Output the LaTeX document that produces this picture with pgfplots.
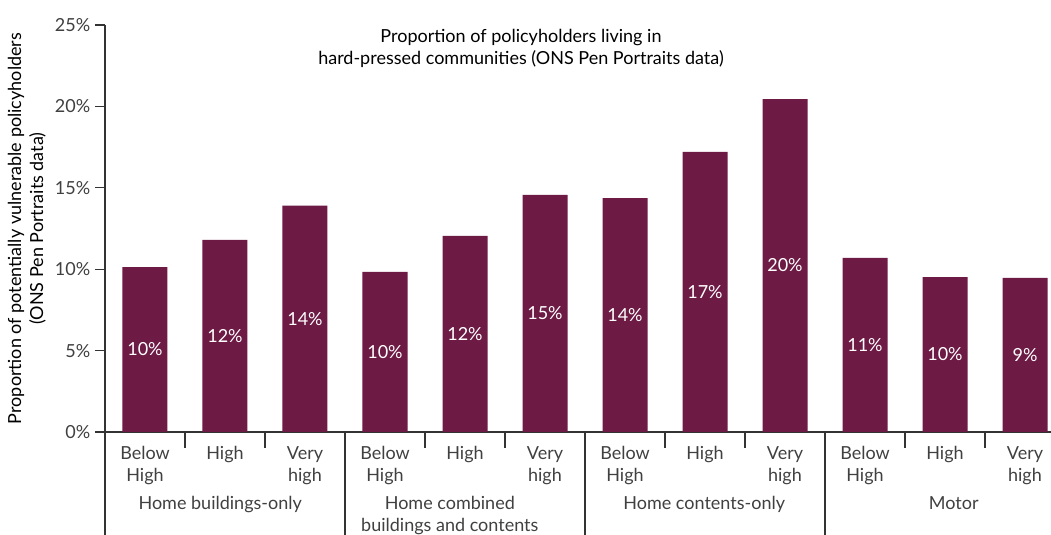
\documentclass[border=0pt]{standalone}
\usepackage{pgfplots}
\pgfplotsset{compat=1.18}
\usepackage{fontspec}
\setmainfont{Lato}
\definecolor{barc}{HTML}{6D1A45}
\definecolor{tickc}{HTML}{404040}
\definecolor{linec}{HTML}{333333}
\begin{document}
\begin{tikzpicture}[font=\fontsize{13.5}{16.5}\selectfont]
\begin{axis}[
  scale only axis, width=709.5pt, height=305.25pt,
  xmin=-0.5, xmax=11.325, ymin=0, ymax=25,
  axis x line*=bottom, axis y line*=left,
  axis line style={linec, line width=0.8pt},
  ybar, bar width=33.75pt,
  xtick={0,...,11},
  xticklabels={Below\\High, High, Very\\high, Below\\High, High, Very\\high, Below\\High, High, Very\\high, Below\\High, High, Very\\high},
  xticklabel style={align=center, text=tickc},
  major x tick style={draw=none},
  ytick={0,5,...,25},
  yticklabel={\pgfmathprintnumber{\tick}\%},
  yticklabel style={text=tickc},
  tick align=outside, major tick length=7.5pt,
  major y tick style={linec, line width=0.8pt},
  /pgf/number format/assume math mode=true,
  ylabel={Proportion of potentially vulnerable policyholders\\(ONS Pen Portraits data)},
  ylabel style={align=center, text=black},
  clip=false,
  visualization depends on={rawy \as \rawy},
  nodes near coords={\pgfmathprintnumber[fixed,precision=0]{\pgfplotspointmeta}\%},
  every node near coord/.append style={text=white, anchor=center, yshift={-6.105pt*\rawy}},
]
\addplot[fill=barc, draw=none] coordinates {
  (0,10.13) (1,11.80) (2,13.90)
  (3,9.83) (4,12.04) (5,14.56)
  (6,14.37) (7,17.20) (8,20.45)
  (9,10.69) (10,9.52) (11,9.46)
};
\pgfplotsinvokeforeach{-0.5,2.5,5.5,8.5}{
  \draw[linec, line width=0.8pt] (axis cs:#1,0) -- ([yshift=-77.25pt]axis cs:#1,0);
}
\pgfplotsinvokeforeach{0.5,1.5,3.5,4.5,6.5,7.5,9.5,10.5}{
  \draw[linec, line width=0.8pt] (axis cs:#1,0) -- ([yshift=-12pt]axis cs:#1,0);
}
\node[anchor=north, align=center, text=tickc, yshift=-45pt] at (axis cs:0.94,0) {Home buildings-only};
\node[anchor=north, align=center, text=tickc, yshift=-45pt] at (axis cs:3.81,0) {Home combined\\buildings and contents};
\node[anchor=north, align=center, text=tickc, yshift=-45pt] at (axis cs:6.99,0) {Home contents-only};
\node[anchor=north, align=center, text=tickc, yshift=-45pt] at (axis cs:10.11,0) {Motor};
\node[align=center, text=black] at (axis cs:4.7,23.55) {Proportion of policyholders living in\\hard-pressed communities (ONS Pen Portraits data)};
\end{axis}
\pgfresetboundingbox
\path ([xshift=-78.75pt,yshift=-77.25pt]current axis.south west) rectangle ([yshift=18.75pt]current axis.north east);
\end{tikzpicture}
\end{document}
